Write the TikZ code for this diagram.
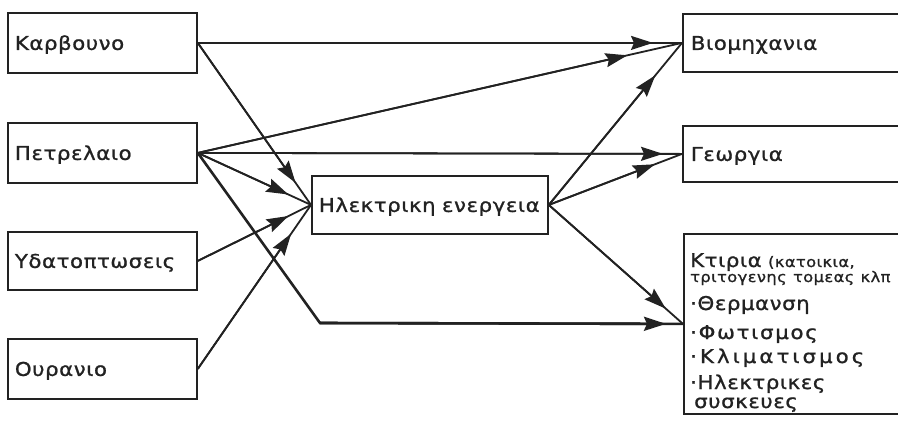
\documentclass[tikz,border=0pt]{standalone}
\usepackage{fontspec}
\setmainfont[FakeStretch=1.12, FakeBold=1.1, LetterSpace=3]{DejaVu Sans}
\usetikzlibrary{arrows.meta,calc}
\definecolor{ink}{HTML}{222222}
\begin{document}
\begin{tikzpicture}[x=1pt,y=-1pt,
  every node/.style={text=ink},
  box/.style={draw=ink, line width=1.8pt, anchor=north west, inner xsep=7pt, inner ysep=0pt,
    align=left, text height=14pt, text depth=0pt, font=\fontsize{19}{22}\selectfont},
  conn/.style={draw=ink, line width=1.8pt},
  tip/.style={draw=ink, line width=1.8pt, -{Stealth[length=22pt,width=14pt,inset=3pt]}}
]
\useasboundingbox[fill=white] (0,0) rectangle (898,424);

\node[box, text width=175pt, minimum height=60pt] (karv) at (7,12) {Καρβουνο};
\node[box, text width=175pt, minimum height=60pt] (petr) at (7,122) {Πετρελαιο};
\node[box, text width=175pt, minimum height=58pt] (ydat) at (7,231) {Υδατοπτωσεις};
\node[box, text width=175pt, minimum height=60pt] (oura) at (7,338) {Ουρανιο};

\node[box, text width=222pt, minimum height=58pt] (elec) at (311,175) {Ηλεκτρικη ενεργεια};

\node[box, inner xsep=8pt, text width=214pt, minimum height=58pt] (viom) at (682,13) {Βιομηχανια};
\node[box, inner xsep=8pt, text width=214pt, minimum height=56pt] (geo) at (682,125) {Γεωργια};
\node[draw=ink, line width=1.8pt, anchor=north west, minimum width=230pt, minimum height=180pt] (kt) at (683,233) {};
\node[anchor=base west, inner sep=0pt, text width=210pt, align=left,
  font=\fontsize{19}{15}\selectfont] (ktx) at (690,267)
  {\lineskiplimit=-1000pt\relax
   Κτιρια {\fontsize{14.5}{15}\selectfont (κατοικια,}\\
   {\fontsize{14.5}{15}\selectfont τριτογενης τομεας κλπ}\\[13pt]
   ·Θερμανση\\[14pt]
   {\addfontfeature{LetterSpace=9}·Φωτισμος}\\[9pt]
   {\addfontfeature{LetterSpace=16}·Κλιματισμος}\\[11pt]
   ·Ηλεκτρικες\\[4pt]
   \hspace*{4pt}συσκευες};

\coordinate (corner) at (320,323);

% straight connectors with their heads set back from the target
\foreach \a/\b/\d in {karv/viom/29, karv/elec/27, petr/viom/56, petr/geo/19, petr/elec/25,
                      ydat/elec/25, oura/elec/35}{
  \draw[conn] (\a.east) -- (\b.west);
  \draw[tip] (\a.east) -- ($(\b.west)!\d pt!(\a.east)$);
}
\foreach \b/\d in {viom/42, geo/29, kt/23}{
  \draw[conn] (elec.east) -- (\b.west);
  \draw[tip] (elec.east) -- ($(\b.west)!\d pt!(elec.east)$);
}
\draw[conn, line width=2.6pt] (petr.east) -- (corner) -- (kt.west);
\draw[tip, line width=2.6pt] (corner) -- ($(kt.west)!17pt!(corner)$);
\end{tikzpicture}
\end{document}
